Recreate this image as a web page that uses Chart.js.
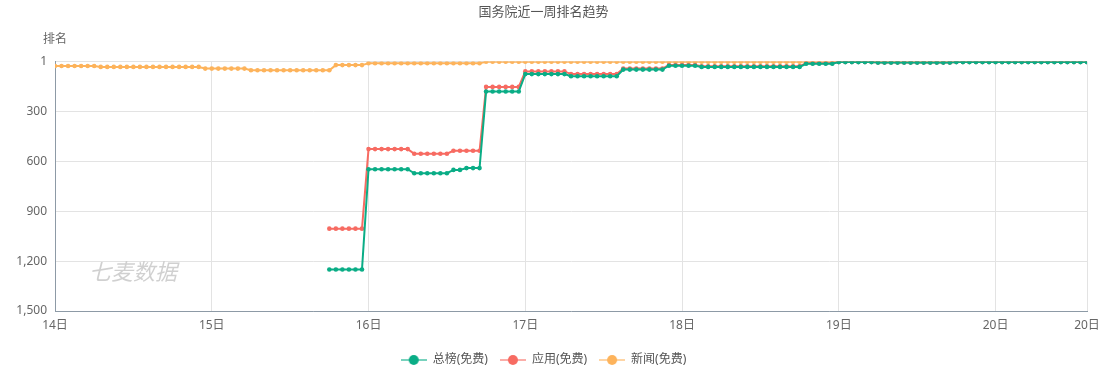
<!DOCTYPE html>
<html>
<head>
<meta charset="utf-8">
<script src="https://cdn.jsdelivr.net/npm/chart.js@4"></script>
<style>
  html, body { margin: 0; padding: 0; background: #fff; }
  #wrap { width: 1107px; height: 370px; }
</style>
</head>
<body>
<div id="wrap"><canvas id="rankChart" width="1107" height="370"></canvas></div>
<script>
// Data: one point per hour, starting 14日 00:00

const days = ["14日", "15日", "16日", "17日", "18日", "19日", "20日"];
const seriesNames = ["总榜(免费)", "应用(免费)", "新闻(免费)"];
const rankTicks = [1, 300, 600, 900, 1200, 1500];

const total_rank = [
  null, null, null, null, null, null, null, null, null, null, null, null, null, null, null, null, null, null, null, null, null, null, null, null,
  null, null, null, null, null, null, null, null, null, null, null, null, null, null, null, null, null, null, 1251, 1251, 1251, 1251, 1251, 1251,
  648, 648, 648, 648, 648, 648, 648, 672, 672, 672, 672, 672, 672, 652, 652, 641, 641, 641, 181, 181, 181, 181, 181, 181,
  76, 76, 76, 76, 76, 76, 76, 89, 89, 89, 89, 89, 89, 89, 89, 49, 49, 49, 49, 49, 49, 49, 26, 26,
  26, 26, 26, 33, 33, 33, 33, 33, 33, 33, 33, 33, 33, 33, 33, 33, 33, 33, 33, 14, 14, 14, 14, 14,
  4, 4, 4, 4, 4, 4, 7, 7, 7, 7, 7, 7, 7, 7, 7, 7, 7, 7, 4, 4, 4, 4, 4, 4,
  4, 4, 4, 4, 4, 4, 4, 4, 4, 4, 4, 4, 4, 4, 4
];

const app_rank = [
  null, null, null, null, null, null, null, null, null, null, null, null, null, null, null, null, null, null, null, null, null, null, null, null,
  null, null, null, null, null, null, null, null, null, null, null, null, null, null, null, null, null, null, 1005, 1005, 1005, 1005, 1005, 1005,
  527, 527, 527, 527, 527, 527, 527, 555, 555, 555, 555, 555, 555, 537, 537, 537, 537, 537, 153, 153, 153, 153, 153, 153,
  60, 60, 60, 60, 60, 60, 60, 76, 76, 76, 76, 76, 76, 76, 76, 43, 43, 43, 43, 43, 43, 43, 21, 21,
  21, 21, 21, 29, 29, 29, 29, 29, 29, 29, 29, 29, 29, 29, 29, 29, 29, 29, 29, 11, 11, 11, 11, 11,
  3, 3, 3, 3, 3, 3, 6, 6, 6, 6, 6, 6, 6, 6, 6, 6, 6, 6, 3, 3, 3, 3, 3, 3,
  3, 3, 3, 3, 3, 3, 3, 3, 3, 3, 3, 3, 3, 3, 3
];

const news_rank = [
  27, 27, 27, 27, 27, 27, 27, 33, 33, 33, 33, 33, 33, 33, 33, 33, 33, 33, 33, 33, 33, 33, 33, 43,
  43, 43, 43, 43, 43, 43, 53, 53, 53, 53, 53, 53, 53, 53, 53, 53, 53, 53, 53, 22, 22, 22, 22, 22,
  11, 11, 11, 11, 11, 11, 11, 11, 11, 11, 11, 11, 11, 11, 11, 11, 11, 11, 2, 2, 2, 2, 2, 2,
  2, 2, 2, 2, 2, 2, 2, 2, 2, 2, 2, 2, 2, 2, 2, 2, 2, 2, 2, 2, 2, 2, 2, 2,
  2, 2, 2, 2, 2, 2, 2, 2, 2, 2, 2, 2, 2, 2, 2, 2, 2, 2, 2, 2, 2, 2, 2, 2,
  1, 1, 1, 1, 1, 1, 1, 1, 1, 1, 1, 1, 1, 1, 1, 1, 1, 1, 1, 1, 1, 1, 1, 1,
  1, 1, 1, 1, 1, 1, 1, 1, 1, 1, 1, 1, 1, 1, 1
];

const colors = ["#0aad86", "#f76b62", "#fdb35b"];

// Setup

const FONT = "'Noto Sans', 'Noto Sans CJK SC', sans-serif";
const lastHour = news_rank.length - 1;

function points(values) {
  return values.map((v, i) => ({ x: i, y: v }));
}

function legendIcon(color) {
  const c = document.createElement("canvas");
  c.width = 26;
  c.height = 12;
  const g = c.getContext("2d");
  g.globalAlpha = 0.55;
  g.strokeStyle = color;
  g.lineWidth = 2;
  g.beginPath();
  g.moveTo(0, 6);
  g.lineTo(26, 6);
  g.stroke();
  g.globalAlpha = 1;
  g.fillStyle = color;
  g.beginPath();
  g.arc(13, 6, 5, 0, Math.PI * 2);
  g.fill();
  return c;
}
const icons = colors.map(legendIcon);

function makeSet(name, values, color) {
  return {
    label: name,
    data: points(values),
    borderColor: color,
    backgroundColor: color,
    borderWidth: 2,
    pointRadius: 2.3,
    pointBorderWidth: 0,
    pointHoverRadius: 3,
    spanGaps: false,
    tension: 0,
  };
}

// Extra texts: axis name and watermark

const extras = {
  id: "extras",
  beforeDatasetsDraw(chart) {
    const ctx = chart.ctx;
    ctx.save();
    ctx.font = "italic 22px 'Noto Sans CJK SC', sans-serif";
    ctx.fillStyle = "rgba(120,120,120,0.35)";
    ctx.textAlign = "left";
    ctx.textBaseline = "middle";
    ctx.fillText("七麦数据", 89, 272);
    ctx.restore();
  },
  afterDraw(chart) {
    const ctx = chart.ctx;
    ctx.save();
    ctx.font = "12px " + FONT;
    ctx.fillStyle = "#666";
    ctx.textAlign = "center";
    ctx.textBaseline = "middle";
    ctx.fillText("排名", chart.chartArea.left, 40);
    ctx.restore();
  },
};

// Configuration

const config = {
  type: "line",
  data: {
    datasets: [
      makeSet(seriesNames[0], total_rank, colors[0]),
      makeSet(seriesNames[1], app_rank, colors[1]),
      makeSet(seriesNames[2], news_rank, colors[2]),
    ],
  },
  options: {
    responsive: false,
    animation: false,
    layout: { padding: { left: 0, right: 20, top: 0, bottom: -6 } },
    interaction: { mode: "index", intersect: false },
    plugins: {
      title: {
        display: true,
        text: "国务院近一周排名趋势",
        color: "#555",
        font: { family: FONT, size: 13, weight: "normal" },
        padding: { top: 4, bottom: 42 },
      },
      legend: {
        position: "bottom",
        labels: {
          usePointStyle: true,
          pointStyleWidth: 26,
          color: "#555",
          font: { family: FONT, size: 12 },
          padding: 12,
          generateLabels(chart) {
            const items = Chart.defaults.plugins.legend.labels.generateLabels(chart);
            items.forEach((it, i) => { it.pointStyle = icons[i]; });
            return items;
          },
        },
      },
      tooltip: { enabled: true },
    },
    scales: {
      x: {
        type: "linear",
        min: 0,
        max: lastHour,
        afterBuildTicks(scale) {
          const t = days.map((d, i) => ({ value: i * 24 }));
          t.push({ value: lastHour });
          scale.ticks = t;
        },
        ticks: {
          autoSkip: false,
          maxRotation: 0,
          color: "#666",
          font: { family: FONT, size: 12 },
          padding: 7,
          callback(v) {
            return days[Math.min(Math.floor(v / 24), days.length - 1)];
          },
        },
        grid: { color: "#e3e3e3", drawTicks: false },
        border: { color: "#8d9aa6" },
        afterFit(scale) { scale.height = 31; },
      },
      y: {
        reverse: true,
        min: 1,
        max: 1500,
        afterBuildTicks(scale) {
          scale.ticks = rankTicks.map((v) => ({ value: v }));
        },
        ticks: {
          color: "#666",
          font: { family: FONT, size: 12 },
          padding: 8,
        },
        grid: { color: "#e3e3e3", drawTicks: false },
        border: { color: "#8d9aa6" },
        afterFit(scale) { scale.width = 55; },
      },
    },
  },
  plugins: [extras],
};

const chart = new Chart(document.getElementById("rankChart"), config);
</script>
</body>
</html>
